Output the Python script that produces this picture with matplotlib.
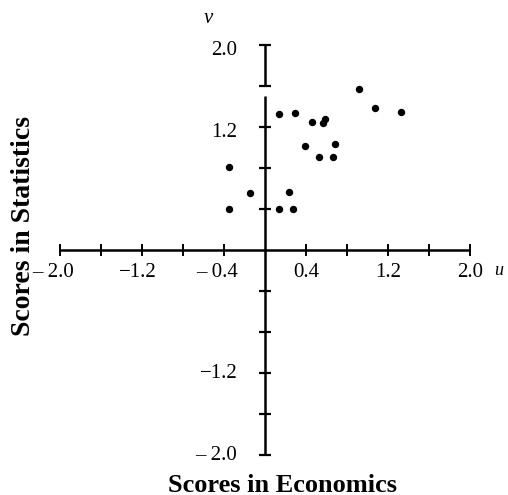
import numpy as np
import matplotlib
matplotlib.use('Agg')
from matplotlib import pyplot as plt

# standardized scores, economics (u) vs statistics (v)
econ = [0.92, 1.07, 1.33, 0.14, 0.29, 0.46, 0.57, 0.59, 0.39, 0.68, 0.53, 0.66, -0.35, -0.15, 0.23, -0.35, 0.14, 0.27]
stats = [1.57, 1.39, 1.35, 1.33, 1.34, 1.25, 1.24, 1.28, 1.01, 1.03, 0.91, 0.91, 0.81, 0.56, 0.57, 0.40, 0.40, 0.40]

tick_vals = [-2.0, -1.6, -1.2, -0.8, -0.4, 0.4, 0.8, 1.2, 1.6, 2.0]
x_labels = {-2.0: '\u2013 2.0', -1.2: '\u22121.2', -0.4: '\u2013 0.4', 0.4: '0.4', 1.2: '1.2', 2.0: '2.0'}
y_labels = {2.0: '2.0', 1.2: '1.2', -1.2: '\u22121.2', -2.0: '\u2013 2.0'}

serif = ['Liberation Serif', 'DejaVu Serif']
W, H = 508, 495
px = 102.5  # pixels per unit

fig = plt.figure(figsize=(W/100, H/100), dpi=100)
ax = fig.add_axes([0, 0, 1, 1])
x0, y0 = 265, 250
ax.set_xlim(-x0/px, (W - x0)/px)
ax.set_ylim(-(H - y0)/px, y0/px)
ax.axis('off')

lw = 1.8
# axes with tick marks
ax.plot([-2, 2], [0, 0], color='black', lw=lw, solid_capstyle='butt')
ax.plot([0, 0], [1.6, 2.0], color='black', lw=lw, solid_capstyle='butt')
ax.plot([0, 0], [-2.0, 1.5], color='black', lw=lw, solid_capstyle='butt')
ax.plot(tick_vals, [0]*len(tick_vals), ls='none', marker='|', ms=8, mew=1.4, color='black')
ax.plot([0]*len(tick_vals), tick_vals, ls='none', marker='_', ms=9, mew=1.6, color='black')

for v, s in x_labels.items():
    if v < 0:
        ax.text(v + 0.14, -0.22, s, ha='right', va='center', fontsize=15, family=serif)
    else:
        ax.text(v, -0.22, s, ha='center', va='center', fontsize=15, family=serif)
for v, s in y_labels.items():
    off = 0.05 if v > 0 else 0.0
    ax.text(-0.27, v - off, s, ha='right', va='center', fontsize=15, family=serif)

ax.text(-0.55, 2.26, 'v', ha='center', va='center', fontsize=15, style='italic', family=serif)
ax.text(2.24, -0.2, 'u', ha='left', va='center', fontsize=13, style='italic', family=serif)

ax.plot(econ, stats, ls='none', marker='o', ms=4.3, color='black')

fig.text(283/W, 1 - 485/H, 'Scores in Economics', ha='center', va='center',
         fontsize=19, fontweight='bold', family=serif)
fig.text(24/W, 1 - 226/H, 'Scores in Statistics', ha='center', va='center', rotation=90,
         fontsize=20, fontweight='bold', family=serif)

fig.savefig('out.png', dpi=100)
